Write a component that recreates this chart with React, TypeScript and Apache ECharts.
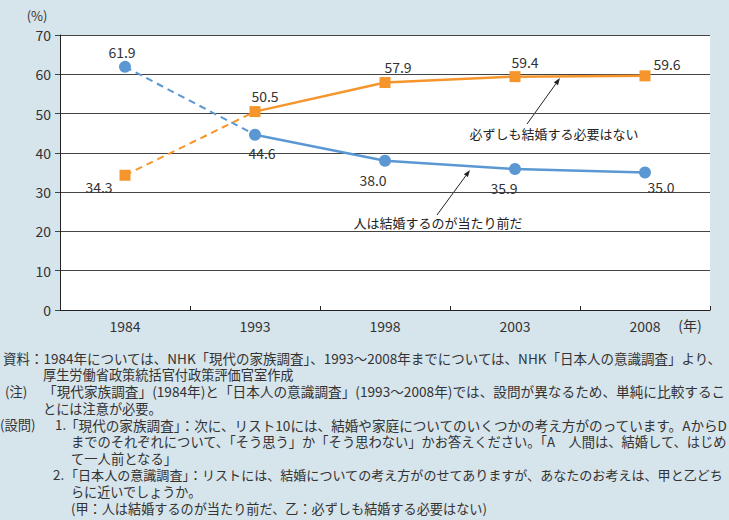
import React, { useEffect, useRef } from "react";
import * as echarts from "echarts";

const years = ["1984", "1993", "1998", "2003", "2008"];
// 人は結婚するのが当たり前だ
const mustMarry = [61.9, 44.6, 38.0, 35.9, 35.0];
// 必ずしも結婚する必要はない
const notNecessary = [34.3, 50.5, 57.9, 59.4, 59.6];
const yMin = 0;
const yMax = 70;
const yInterval = 10;

// label offsets (px) relative to the marker centre
const mustMarryLabelOffsets = [[-3, -15], [7, 18], [-12, 19], [-11, 19], [16, 14]];
const notNecessaryLabelOffsets = [[-26, 12], [10, -16], [13, -16], [10, -15], [22, -12]];

const footnoteTexts = [
  "資料：1984年については、NHK「現代の家族調査」、1993～2008年までについては、NHK「日本人の意識調査」より、",
  "厚生労働省政策統括官付政策評価官室作成",
  "(注)",
  "「現代家族調査」(1984年)と「日本人の意識調査」(1993～2008年)では、設問が異なるため、単純に比較するこ",
  "とには注意が必要。",
  "(設問)",
  "1.",
  "「現代の家族調査」：次に、リスト10には、結婚や家庭についてのいくつかの考え方がのっています。AからD",
  "までのそれぞれについて、「そう思う」か「そう思わない」かお答えください。「A　人間は、結婚して、はじめ",
  "て一人前となる」",
  "2.",
  "「日本人の意識調査」：リストには、結婚についての考え方がのせてありますが、あなたのお考えは、甲と乙どち",
  "らに近いでしょうか。",
  "(甲：人は結婚するのが当たり前だ、乙：必ずしも結婚する必要はない)",
];
// layout of the footnote lines (x, row, font size)
const footnoteX = [3, 43, 5, 43, 43, 0, 55, 65, 71, 71, 53, 65, 71, 71];
const footnoteRows = [0, 1, 2, 2, 3, 4, 4, 4, 5, 6, 7, 7, 8, 9];
const footnoteSizes = [13.5, 13.2, 13.3, 13.65, 13.2, 13.3, 13.3, 13.6, 13.27, 13.3, 13.3, 13.05, 13.1, 13.15];

const BLUE = "#5b97d3";
const ORANGE = "#f5952b";
const FONT = "'Noto Sans CJK JP', 'Noto Sans', sans-serif";

function arrow(x1: number, y1: number, x2: number, y2: number) {
  const dx = x2 - x1;
  const dy = y2 - y1;
  const len = Math.sqrt(dx * dx + dy * dy);
  const ux = dx / len;
  const uy = dy / len;
  const hl = 7;
  const hw = 2.5;
  const bx = x2 - ux * hl;
  const by = y2 - uy * hl;
  return [
    {
      type: "line",
      shape: { x1, y1, x2: bx, y2: by },
      style: { stroke: "#222", lineWidth: 1 },
    },
    {
      type: "polygon",
      shape: {
        points: [
          [x2, y2],
          [bx - uy * hw, by + ux * hw],
          [bx + uy * hw, by - ux * hw],
        ],
      },
      style: { fill: "#222" },
    },
  ];
}

function labelled(values: number[], offsets: number[][], from: number, to: number) {
  return values.map((v, i) => {
    if (i < from || i > to) return "-";
    return {
      value: v,
      label: { offset: offsets[i] },
    };
  });
}

export default function App() {
  const ref = useRef<HTMLDivElement>(null);
  useEffect(() => {
    if (!ref.current) return;
    const chart = echarts.init(ref.current, null, { renderer: "svg" });
    const labelBase = {
      show: true,
      position: "inside",
      color: "#333",
      fontSize: 14,
      fontFamily: FONT,
      formatter: (p: any) => Number(p.value).toFixed(1),
    };
    const footGraphics = footnoteTexts.map((t, i) => ({
      type: "text",
      x: footnoteX[i],
      y: 358 + footnoteRows[i] * 16.7,
      style: {
        text: t,
        fill: "#333",
        fontSize: footnoteSizes[i],
        fontFamily: FONT,
        lineHeight: 15,
        verticalAlign: "middle",
      },
    }));
    chart.setOption({
      animation: false,
      backgroundColor: "#d6e4ec",
      grid: {
        left: 60,
        right: 19,
        top: 35,
        bottom: 210,
        show: true,
        backgroundColor: "#ffffff",
        borderWidth: 0,
      },
      xAxis: {
        type: "category",
        data: years,
        boundaryGap: true,
        axisLine: { lineStyle: { color: "#222", width: 1 } },
        axisTick: { show: true, inside: true, length: 4, lineStyle: { color: "#222" } },
        axisLabel: { color: "#333", fontSize: 14, fontFamily: FONT, margin: 9 },
      },
      yAxis: {
        type: "value",
        min: yMin,
        max: yMax,
        interval: yInterval,
        axisLine: { show: true, lineStyle: { color: "#222", width: 1 } },
        axisTick: { show: true, length: 5, lineStyle: { color: "#444" } },
        axisLabel: { color: "#333", fontSize: 14, fontFamily: FONT, margin: 9 },
        splitLine: { show: true, lineStyle: { color: "#444", width: 1 } },
      },
      series: [
        {
          type: "line",
          name: "mustMarryDashed",
          data: labelled(mustMarry, mustMarryLabelOffsets, 0, 1).map((d: any, i) =>
            i === 1 && d !== "-" ? { ...d, symbol: "none", label: { show: false } } : d
          ),
          symbol: "circle",
          symbolSize: 12,
          itemStyle: { color: BLUE },
          lineStyle: { color: BLUE, width: 2, type: [7, 5] },
          label: labelBase,
          z: 3,
        },
        {
          type: "line",
          name: "notNecessaryDashed",
          data: labelled(notNecessary, notNecessaryLabelOffsets, 0, 1).map((d: any, i) =>
            i === 1 && d !== "-" ? { ...d, symbol: "none", label: { show: false } } : d
          ),
          symbol: "rect",
          symbolSize: 11,
          itemStyle: { color: ORANGE },
          lineStyle: { color: ORANGE, width: 2, type: [7, 5] },
          label: labelBase,
          z: 3,
        },
        {
          type: "line",
          name: "人は結婚するのが当たり前だ",
          data: labelled(mustMarry, mustMarryLabelOffsets, 1, 4),
          symbol: "circle",
          symbolSize: 12,
          itemStyle: { color: BLUE },
          lineStyle: { color: BLUE, width: 2.5 },
          label: labelBase,
          z: 4,
        },
        {
          type: "line",
          name: "必ずしも結婚する必要はない",
          data: labelled(notNecessary, notNecessaryLabelOffsets, 1, 4),
          symbol: "rect",
          symbolSize: 11,
          itemStyle: { color: ORANGE },
          lineStyle: { color: ORANGE, width: 2.5 },
          label: labelBase,
          z: 5,
        },
      ],
      graphic: [
        {
          type: "text",
          x: 37,
          y: 15,
          style: { text: "(%)", fill: "#333", font: `13px ${FONT}`, textAlign: "center", textVerticalAlign: "middle" },
        },
        {
          type: "text",
          x: 690,
          y: 325,
          style: { text: "(年)", fill: "#333", font: `14px ${FONT}`, textAlign: "center", textVerticalAlign: "middle" },
        },
        {
          type: "text",
          x: 554,
          y: 133,
          style: { text: "必ずしも結婚する必要はない", fill: "#222", font: `13px ${FONT}`, textAlign: "center", textVerticalAlign: "middle" },
        },
        {
          type: "text",
          x: 438,
          y: 222,
          style: { text: "人は結婚するのが当たり前だ", fill: "#222", font: `13px ${FONT}`, textAlign: "center", textVerticalAlign: "middle" },
        },
        ...arrow(527, 124, 560, 78),
        ...arrow(437, 215, 470, 170),
        ...footGraphics,
      ],
    });
    return () => chart.dispose();
  }, []);
  return <div ref={ref} style={{ width: 729, height: 520, position: "absolute", left: 0, top: 0 }} />;
}
